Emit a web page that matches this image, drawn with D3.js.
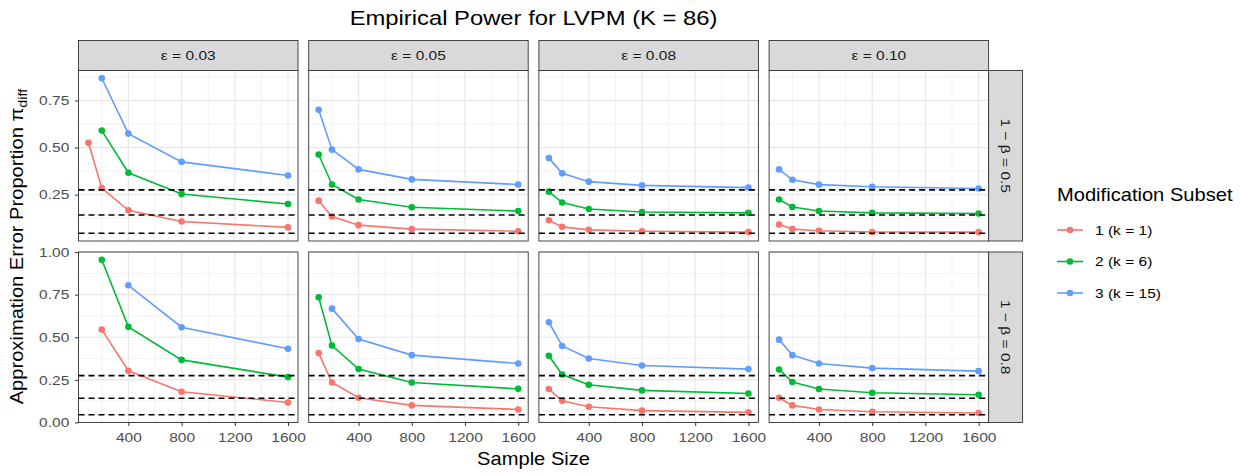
<!DOCTYPE html>
<html>
<head>
<meta charset="utf-8">
<script src="https://cdn.jsdelivr.net/npm/d3@7"></script>
<style>
  html, body { margin: 0; padding: 0; background: #fff; }
  svg { display: block; font-family: "Liberation Sans", Arial, sans-serif; }
</style>
</head>
<body>
<svg id="chart" width="1241" height="476"></svg>
<script>
// ---------------- data ----------------
const sampleSizes = [100, 200, 400, 800, 1600];
const epsilonLabels = ["ε = 0.03", "ε = 0.05", "ε = 0.08", "ε = 0.10"];
const powerLabels = ["1 − β = 0.5", "1 − β = 0.8"];
const subsetLabels = ["1 (k = 1)", "2 (k = 6)", "3 (k = 15)"];
const subsetColors = ["#F8766D", "#00BA38", "#619CFF"];
const hlineValues = [0.275, 0.142, 0.045];
const xTicks = [400, 800, 1200, 1600];
const xMinorTicks = [200, 600, 1000, 1400];
const yTicks = [0, 0.25, 0.5, 0.75, 1.0];
const yMinorTicks = [0.125, 0.375, 0.625, 0.875];

// rows: epsilon 0.03, 0.05, 0.08, 0.10 ; columns: sample sizes (null = not shown)
const subset1_power05 = [
  [0.525, 0.285, 0.167, 0.107, 0.076],
  [0.218, 0.134, 0.088, 0.067, 0.056],
  [0.114, 0.079, 0.063, 0.056, 0.051],
  [0.091, 0.067, 0.058, 0.052, 0.051]
];
const subset2_power05 = [
  [null, 0.590, 0.366, 0.253, 0.200],
  [0.463, 0.304, 0.224, 0.183, 0.163],
  [0.266, 0.208, 0.174, 0.158, 0.153],
  [0.224, 0.184, 0.163, 0.153, 0.150]
];
const subset3_power05 = [
  [null, 0.868, 0.574, 0.424, 0.352],
  [0.701, 0.489, 0.384, 0.331, 0.304],
  [0.444, 0.363, 0.319, 0.299, 0.287],
  [0.384, 0.329, 0.303, 0.292, 0.283]
];
const subset1_power08 = [
  [null, 0.545, 0.303, 0.180, 0.117],
  [0.407, 0.234, 0.145, 0.100, 0.076],
  [0.196, 0.127, 0.092, 0.069, 0.059],
  [0.145, 0.100, 0.076, 0.063, 0.055]
];
const subset2_power08 = [
  [null, 0.955, 0.561, 0.367, 0.266],
  [0.735, 0.451, 0.313, 0.234, 0.197],
  [0.391, 0.281, 0.221, 0.188, 0.170],
  [0.311, 0.237, 0.196, 0.174, 0.162]
];
const subset3_power08 = [
  [null, null, 0.805, 0.559, 0.432],
  [null, 0.668, 0.489, 0.395, 0.346],
  [0.588, 0.449, 0.375, 0.334, 0.313],
  [0.486, 0.395, 0.346, 0.319, 0.301]
];
const seriesByPower = [
  [subset1_power05, subset2_power05, subset3_power05],
  [subset1_power08, subset2_power08, subset3_power08]
];

// ---------------- layout ----------------
const svg = d3.select("#chart");
const panelLeft = 78.5, panelW = 219.5, colGap = 10.7;
const stripTop = 40.5, stripH = 30;
const rowTops = [70.5, 252], rowH = 170.5;
const rightStripW = 34;
const font = '"Liberation Sans", Arial, sans-serif';
const STRETCH = 1.15;   // horizontal widening of glyphs as in the reference rendering
const tickSize = 13.5, titleSize = 17.5;

function addText(parent, x, y, str, size, anchor, rot, fill) {
  const g = parent.append("g").attr("transform", `translate(${x},${y}) rotate(${rot || 0}) scale(${STRETCH},1)`);
  return g.append("text").attr("x", 0).attr("y", 0).attr("text-anchor", anchor || "start")
    .attr("font-size", size).attr("fill", fill || "#000").text(str);
}

const x = d3.scaleLinear().domain([25, 1675]).range([0, panelW]);

function rowScale(r) {
  const vals = [];
  seriesByPower[r].forEach(s => s.forEach(row => row.forEach(v => { if (v != null) vals.push(v); })));
  hlineValues.forEach(v => vals.push(v));
  const [lo, hi] = d3.extent(vals);
  const pad = (hi - lo) * 0.05;
  return d3.scaleLinear().domain([lo - pad, hi + pad]).range([rowH, 0]);
}
const yScales = [rowScale(0), rowScale(1)];

// title
addText(svg, panelLeft + (4 * panelW + 3 * colGap) / 2, 25, "Empirical Power for LVPM (K = 86)", 20.7, "middle");

// strips on top
epsilonLabels.forEach((lab, c) => {
  const px = panelLeft + c * (panelW + colGap);
  svg.append("rect").attr("x", px).attr("y", stripTop).attr("width", panelW).attr("height", stripH)
    .attr("fill", "#D9D9D9").attr("stroke", "#333333").attr("stroke-width", 0.9);
  addText(svg, px + panelW / 2, stripTop + stripH / 2 + 4.8, lab, tickSize, "middle", 0, "#1A1A1A");
});

const lineGen = d3.line()
  .defined(d => d.v != null)
  .x(d => x(d.n)).y(d => d.y);

powerLabels.forEach((plab, r) => {
  const y = yScales[r];
  const top = rowTops[r];
  const [d0, d1] = y.domain();
  const tol = (d1 - d0) * 0.002;
  const yt = yTicks.filter(t => t >= d0 - tol && t <= d1 + tol);
  const ytm = yMinorTicks.filter(t => t >= d0 && t <= d1);

  // right strip
  const sx = panelLeft + 4 * panelW + 3 * colGap;
  svg.append("rect").attr("x", sx).attr("y", top).attr("width", rightStripW).attr("height", rowH)
    .attr("fill", "#D9D9D9").attr("stroke", "#333333").attr("stroke-width", 0.9);
  addText(svg, sx + rightStripW / 2 - 4.8, top + rowH / 2, plab, tickSize, "middle", 90, "#1A1A1A");

  epsilonLabels.forEach((elab, c) => {
    const px = panelLeft + c * (panelW + colGap);
    const g = svg.append("g").attr("transform", `translate(${px},${top})`);
    g.append("rect").attr("width", panelW).attr("height", rowH).attr("fill", "#fff");

    // minor grid
    g.selectAll(".mx").data(xMinorTicks).join("line")
      .attr("x1", d => x(d)).attr("x2", d => x(d)).attr("y1", 0).attr("y2", rowH)
      .attr("stroke", "#F0F0F0").attr("stroke-width", 0.9);
    g.selectAll(".my").data(ytm).join("line")
      .attr("x1", 0).attr("x2", panelW).attr("y1", d => y(d)).attr("y2", d => y(d))
      .attr("stroke", "#F0F0F0").attr("stroke-width", 0.9);
    // major grid
    g.selectAll(".Mx").data(xTicks).join("line")
      .attr("x1", d => x(d)).attr("x2", d => x(d)).attr("y1", 0).attr("y2", rowH)
      .attr("stroke", "#E8E8E8").attr("stroke-width", 1.2);
    g.selectAll(".My").data(yt).join("line")
      .attr("x1", 0).attr("x2", panelW).attr("y1", d => y(d)).attr("y2", d => y(d))
      .attr("stroke", "#E8E8E8").attr("stroke-width", 1.2);

    // series
    seriesByPower[r].forEach((subset, s) => {
      const pts = sampleSizes.map((n, i) => ({ n, v: subset[c][i], y: subset[c][i] == null ? 0 : y(subset[c][i]) }));
      g.append("path").datum(pts).attr("d", lineGen)
        .attr("fill", "none").attr("stroke", subsetColors[s]).attr("stroke-width", 1.6);
      g.selectAll(null).data(pts.filter(d => d.v != null)).join("circle")
        .attr("cx", d => x(d.n)).attr("cy", d => d.y).attr("r", 3.3)
        .attr("fill", subsetColors[s]);
    });

    // dashed reference lines
    g.selectAll(".hl").data(hlineValues).join("line")
      .attr("x1", 0).attr("x2", panelW).attr("y1", d => y(d)).attr("y2", d => y(d))
      .attr("stroke", "#000").attr("stroke-width", 1.7).attr("stroke-dasharray", "6,4");

    // border
    g.append("rect").attr("width", panelW).attr("height", rowH)
      .attr("fill", "none").attr("stroke", "#333333").attr("stroke-width", 0.9);

    // y axis on first column
    if (c === 0) {
      const ax = g.append("g").call(d3.axisLeft(y).tickValues(yt).tickFormat(d3.format(".2f")).tickSize(3.5).tickPadding(4.5));
      ax.select(".domain").remove();
      ax.selectAll("line").attr("stroke", "#333333");
      ax.selectAll("text").attr("font-size", tickSize).attr("fill", "#4D4D4D").attr("font-family", font)
        .attr("transform", `scale(${STRETCH},1)`);
    }
    // x axis on bottom row
    if (r === 1) {
      const ax = g.append("g").attr("transform", `translate(0,${rowH})`)
        .call(d3.axisBottom(x).tickValues(xTicks).tickFormat(d3.format("d")).tickSize(3.5).tickPadding(6.5));
      ax.select(".domain").remove();
      ax.selectAll("line").attr("stroke", "#333333");
      ax.selectAll("text").attr("font-size", tickSize).attr("fill", "#4D4D4D").attr("font-family", font)
        .attr("transform", `scale(${STRETCH},1)`);
    }
  });
});

// axis titles
addText(svg, panelLeft + (4 * panelW + 3 * colGap) / 2, 465, "Sample Size", titleSize, "middle");

const yTitle = addText(svg, 22.5, (rowTops[0] + rowTops[1] + rowH) / 2, "", titleSize, "middle", -90);
yTitle.append("tspan").text("Approximation Error Proportion π");
yTitle.append("tspan").attr("font-size", 12.5).attr("dy", 4).text("diff");

// legend
const lg = svg.append("g").attr("transform", "translate(1057,0)");
addText(lg, 0, 201, "Modification Subset", titleSize, "start");
subsetLabels.forEach((lab, i) => {
  const ly = 230 + i * 31.5;
  lg.append("line").attr("x1", 0).attr("x2", 26).attr("y1", ly).attr("y2", ly)
    .attr("stroke", subsetColors[i]).attr("stroke-width", 1.6);
  lg.append("circle").attr("cx", 13).attr("cy", ly).attr("r", 3.3).attr("fill", subsetColors[i]);
  addText(lg, 38, ly + 4.8, lab, tickSize, "start");
});
</script>
</body>
</html>
